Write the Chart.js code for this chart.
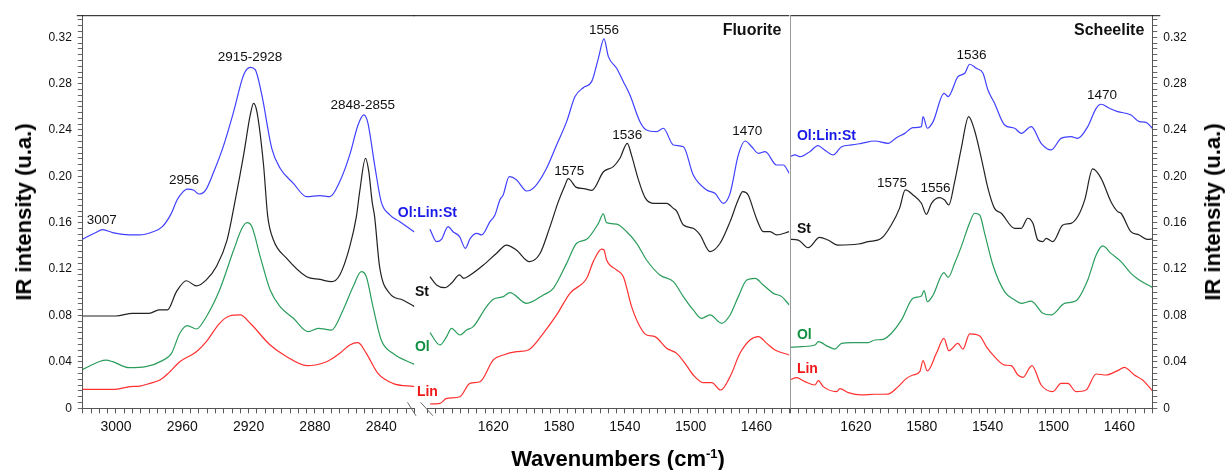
<!DOCTYPE html>
<html>
<head>
<meta charset="utf-8">
<title>IR spectra - fluorite / scheelite</title>
<script src="https://cdn.jsdelivr.net/npm/chart.js@4.4.1/dist/chart.umd.min.js"></script>
<style>
    body { margin: 0; background: #fff; }
    #wrap { position: relative; width: 1225px; height: 470px; font-family: "Liberation Sans", Arial, Helvetica, sans-serif; }
    #wrap canvas { position: absolute; left: 0; top: 0; }
    .axis-title { position: absolute; font-weight: bold; font-size: 22px; color: #000; white-space: nowrap; }
    .axis-title sup { font-size: 13px; }
</style>
</head>
<body>
<div id="wrap">
    <canvas id="chPanel" width="1225" height="470"></canvas>
    <canvas id="flPanel" width="1225" height="470"></canvas>
    <canvas id="scPanel" width="1225" height="470"></canvas>
    <div class="axis-title" style="left:618px; top:459px; transform:translate(-50%,-50%);">Wavenumbers (cm<sup>-1</sup>)</div>
    <div class="axis-title" style="left:24px; top:212px; transform:translate(-50%,-50%) rotate(-90deg);">IR intensity (u.a.)</div>
    <div class="axis-title" style="left:1213px; top:212px; transform:translate(-50%,-50%) rotate(-90deg);">IR intensity (u.a.)</div>
</div>
<script>
// ---- CH stretching region (3020 - 2820 cm-1) ----
const chMixX = [3020, 3013, 3008, 3002, 2996, 2986, 2978, 2972, 2967, 2963, 2960, 2957, 2953, 2950, 2946, 2941, 2935, 2929, 2923, 2919, 2916, 2912, 2906, 2901, 2893, 2885, 2877, 2871, 2865, 2859, 2854, 2850.5, 2848, 2844, 2840, 2835, 2829, 2820];
const chMixY = [0.146, 0.151, 0.154, 0.1515, 0.150, 0.1495, 0.152, 0.1567, 0.167, 0.180, 0.186, 0.189, 0.188, 0.1848, 0.188, 0.204, 0.227, 0.256, 0.2875, 0.294, 0.292, 0.270, 0.224, 0.207, 0.194, 0.1825, 0.1834, 0.1825, 0.1955, 0.2185, 0.2443, 0.253, 0.2458, 0.210, 0.178, 0.167, 0.161, 0.152];

const chStX = [3020, 3000, 2990, 2980, 2974, 2969, 2963.5, 2957.5, 2951.5, 2945.5, 2939.5, 2933, 2928, 2923, 2919, 2917, 2915, 2911, 2908.5, 2905, 2897, 2885, 2877, 2870, 2865, 2859, 2855, 2853, 2849.5, 2847.5, 2845.5, 2844, 2841, 2835, 2827, 2820];
const chStY = [0.0796, 0.0796, 0.0819, 0.0819, 0.0848, 0.0848, 0.1006, 0.110, 0.1055, 0.1107, 0.122, 0.145, 0.180, 0.2185, 0.253, 0.263, 0.2558, 0.210, 0.166, 0.1452, 0.1293, 0.1135, 0.1112, 0.1092, 0.115, 0.1394, 0.1653, 0.1868, 0.2156, 0.2041, 0.1782, 0.1653, 0.1222, 0.0992, 0.0934, 0.0877];

const chOlX = [3020, 3006, 3002, 2992, 2982, 2972, 2966.5, 2961.5, 2957, 2951.5, 2945.5, 2937.5, 2929, 2924, 2921, 2918, 2913, 2907, 2901, 2893, 2884, 2878, 2870, 2863, 2857, 2852, 2849, 2845, 2840, 2833, 2820];
const chOlY = [0.0336, 0.0416, 0.0402, 0.035, 0.0359, 0.0411, 0.0474, 0.0647, 0.0713, 0.0684, 0.079, 0.102, 0.1365, 0.1552, 0.1601, 0.1566, 0.1308, 0.102, 0.0877, 0.0776, 0.0661, 0.069, 0.0675, 0.0848, 0.1048, 0.1178, 0.1135, 0.0877, 0.0589, 0.0474, 0.0379];

const chLinX = [3020, 3000.5, 2991.5, 2985.5, 2979.5, 2973.5, 2968.5, 2961.5, 2951.5, 2945.5, 2937.5, 2931.5, 2925, 2919, 2907, 2897, 2885, 2873, 2865, 2859, 2854, 2849, 2842, 2833, 2820];
const chLinY = [0.0164, 0.0164, 0.0187, 0.0192, 0.0215, 0.0244, 0.0301, 0.0402, 0.0488, 0.0575, 0.0733, 0.0796, 0.0805, 0.0733, 0.0546, 0.0445, 0.0368, 0.0402, 0.0474, 0.0546, 0.0566, 0.0474, 0.0301, 0.0215, 0.0187];

// ---- Fluorite (1660 - 1440 cm-1) ----
const flMixX = [1658.5, 1654.5, 1651.5, 1647.5, 1644.5, 1640.5, 1637, 1634, 1630, 1627, 1622, 1619, 1616, 1614, 1610.3, 1605.8, 1599.7, 1594.7, 1587.6, 1581.5, 1575.4, 1570.3, 1565.3, 1560.2, 1556.1, 1552.7, 1550, 1545, 1540.9, 1536.9, 1530.8, 1526.8, 1520.7, 1516.6, 1510.5, 1504.4, 1498.4, 1490.3, 1485.2, 1480.1, 1476, 1471, 1466.9, 1462.9, 1458.8, 1454.7, 1447.7, 1443.6, 1440];
const flMixY = [0.1544, 0.1437, 0.1457, 0.1567, 0.1523, 0.148, 0.138, 0.1466, 0.1509, 0.1495, 0.161, 0.1667, 0.1797, 0.184, 0.1998, 0.1969, 0.1874, 0.1912, 0.207, 0.2271, 0.2472, 0.2688, 0.2765, 0.2817, 0.3018, 0.3185, 0.3033, 0.2932, 0.2817, 0.2702, 0.2472, 0.240, 0.2386, 0.2415, 0.2271, 0.2256, 0.2012, 0.1883, 0.1854, 0.1768, 0.1854, 0.2185, 0.2305, 0.2256, 0.2199, 0.2213, 0.2098, 0.2098, 0.2026];

const flStX = [1658.5, 1654.5, 1649.5, 1645.5, 1640.5, 1638, 1634, 1626, 1618, 1612, 1606, 1598, 1591.5, 1585.5, 1580.5, 1576.5, 1574.4, 1569.5, 1565, 1560, 1553, 1547, 1543, 1538.5, 1536, 1532, 1527.7, 1522.7, 1514.6, 1510.5, 1508.5, 1504.4, 1498.4, 1494.3, 1488.2, 1482.1, 1476, 1471, 1468.3, 1465, 1462, 1459.8, 1455.8, 1451.7, 1447.7, 1440];
const flStY = [0.1135, 0.1063, 0.104, 0.1078, 0.115, 0.1121, 0.115, 0.1236, 0.1337, 0.1408, 0.1365, 0.1265, 0.1337, 0.1567, 0.178, 0.192, 0.198, 0.1905, 0.1895, 0.188, 0.204, 0.2084, 0.2156, 0.2285, 0.2185, 0.1983, 0.1817, 0.1768, 0.1768, 0.1724, 0.170, 0.1581, 0.1552, 0.1495, 0.1351, 0.1423, 0.161, 0.180, 0.1868, 0.184, 0.172, 0.163, 0.1523, 0.1523, 0.1495, 0.1523];

const flOlX = [1658.5, 1652.4, 1648.4, 1645.4, 1640.3, 1636.2, 1632.2, 1624.1, 1620, 1613.9, 1609.9, 1599.7, 1589.6, 1583.5, 1575.4, 1569.3, 1563.2, 1556.1, 1553.1, 1551.1, 1545, 1538.9, 1532.8, 1526.8, 1518.7, 1510.5, 1504.4, 1498.4, 1493.3, 1488.2, 1481.1, 1476, 1471, 1465.9, 1460.8, 1455.8, 1449.7, 1444.6, 1440];
const flOlY = [0.0652, 0.0546, 0.0618, 0.069, 0.0632, 0.0675, 0.0704, 0.0877, 0.094, 0.0963, 0.0997, 0.0905, 0.0977, 0.1035, 0.125, 0.1423, 0.1457, 0.1595, 0.1676, 0.1601, 0.1589, 0.1523, 0.1423, 0.1279, 0.115, 0.1092, 0.0963, 0.0848, 0.0776, 0.0805, 0.0733, 0.0805, 0.0963, 0.1107, 0.1121, 0.1063, 0.0991, 0.0963, 0.0891];

const flLinX = [1658.5, 1652.4, 1648.4, 1640.3, 1634.2, 1628.1, 1620, 1613.9, 1605.8, 1598.7, 1589.6, 1581.5, 1573.4, 1563.2, 1559.2, 1554.1, 1552.7, 1551.1, 1545, 1540.9, 1535.9, 1530.8, 1526.7, 1521.7, 1514.6, 1508.5, 1503.4, 1498.4, 1492.3, 1487.2, 1481.7, 1476, 1470, 1463.9, 1458.8, 1453.7, 1448.7, 1440];
const flLinY = [0.0037, 0.0043, 0.0086, 0.010, 0.0215, 0.0229, 0.0417, 0.046, 0.0488, 0.0503, 0.0647, 0.0805, 0.0992, 0.1121, 0.1265, 0.1372, 0.1365, 0.1279, 0.1193, 0.1135, 0.0877, 0.0704, 0.0632, 0.0618, 0.0517, 0.0474, 0.0388, 0.0287, 0.0221, 0.0221, 0.0158, 0.0273, 0.0474, 0.0589, 0.0618, 0.056, 0.0503, 0.046];

// ---- Scheelite (1660 - 1440 cm-1) ----
const scMixX = [1660, 1657, 1654, 1648, 1643, 1639, 1633.7, 1628.7, 1622.6, 1616.6, 1608.5, 1600.4, 1595.4, 1590.3, 1585.3, 1580.2, 1579.2, 1576.6, 1573.1, 1566.5, 1564, 1558, 1553.9, 1550.9, 1546.9, 1542.8, 1539.8, 1535.8, 1529.7, 1523.6, 1519.6, 1513.5, 1507.5, 1501.4, 1495.4, 1489.3, 1485.3, 1479.2, 1474.1, 1471.1, 1466.1, 1461, 1452.9, 1447.9, 1443.8, 1440];
const scMixY = [0.217, 0.2185, 0.217, 0.2213, 0.2265, 0.2228, 0.2185, 0.2256, 0.2271, 0.2285, 0.2305, 0.2285, 0.2334, 0.2371, 0.242, 0.2429, 0.2515, 0.2415, 0.2472, 0.2716, 0.2688, 0.286, 0.2889, 0.2967, 0.2932, 0.2889, 0.2745, 0.263, 0.2443, 0.2415, 0.2371, 0.2429, 0.2285, 0.2228, 0.2328, 0.2343, 0.2328, 0.2429, 0.2587, 0.2622, 0.2587, 0.2558, 0.253, 0.2472, 0.2466, 0.2415];

const scStX = [1660, 1655, 1649, 1642, 1637, 1631, 1618.5, 1612.5, 1604.5, 1598.5, 1593.5, 1590, 1585.3, 1580.2, 1577.2, 1574.1, 1569.1, 1566.1, 1563.6, 1560, 1556, 1551.5, 1548, 1543.8, 1539.8, 1535.8, 1531.7, 1523.6, 1519.6, 1515.6, 1512.5, 1509.5, 1506.5, 1504.4, 1500.4, 1494.3, 1489.3, 1485, 1481, 1476.2, 1471.1, 1465.1, 1461, 1459, 1453, 1448, 1442.8, 1440];
const scStY = [0.1457, 0.1451, 0.1385, 0.1474, 0.1451, 0.1408, 0.1417, 0.1437, 0.1466, 0.1581, 0.1724, 0.1883, 0.184, 0.1768, 0.1673, 0.1768, 0.1817, 0.1796, 0.1753, 0.1955, 0.2242, 0.2515, 0.240, 0.2156, 0.1897, 0.1724, 0.1682, 0.1552, 0.1552, 0.1639, 0.1595, 0.1451, 0.1437, 0.1466, 0.1437, 0.1581, 0.1595, 0.166, 0.180, 0.2064, 0.1983, 0.1782, 0.1696, 0.1682, 0.1523, 0.1495, 0.1457, 0.146];

const scOlX = [1660, 1652.9, 1644.8, 1642.8, 1636.8, 1632.7, 1628.7, 1622.6, 1612.5, 1608.5, 1603.4, 1598.4, 1592.3, 1585.3, 1580.2, 1578.6, 1576.6, 1573.1, 1566.5, 1564, 1560, 1556, 1550.9, 1547.9, 1544.8, 1541.8, 1536.8, 1529.7, 1523.6, 1519.6, 1513.5, 1506.5, 1501.4, 1493.3, 1486.3, 1479.2, 1474.1, 1470.1, 1465.1, 1459, 1453, 1447.9, 1440];
const scOlY = [0.0526, 0.0532, 0.0546, 0.0575, 0.0532, 0.0511, 0.056, 0.0566, 0.0566, 0.0589, 0.0595, 0.0647, 0.0762, 0.0949, 0.0969, 0.1015, 0.092, 0.0977, 0.117, 0.1129, 0.125, 0.1394, 0.1601, 0.1682, 0.1667, 0.1509, 0.1236, 0.1006, 0.0934, 0.0905, 0.0925, 0.0819, 0.0805, 0.0905, 0.0928, 0.1107, 0.1322, 0.140, 0.1336, 0.1265, 0.1164, 0.1107, 0.1043];

const scLinX = [1660, 1656, 1650.9, 1644.8, 1642.8, 1639.8, 1631.7, 1629.7, 1624.6, 1616.6, 1608.5, 1600.4, 1594.3, 1589.3, 1585.3, 1581.2, 1579.2, 1576.6, 1571.1, 1566.5, 1563.6, 1558, 1555, 1550.9, 1544.8, 1540.8, 1535.8, 1529.7, 1525.7, 1521.6, 1518.6, 1513.1, 1507.5, 1500.4, 1495.4, 1491.3, 1486.3, 1480.2, 1474.1, 1468.1, 1461, 1457, 1450.9, 1445.9, 1440];
const scLinY = [0.0244, 0.0264, 0.023, 0.0201, 0.0238, 0.0187, 0.0144, 0.0169, 0.0135, 0.0115, 0.0121, 0.0123, 0.0187, 0.0258, 0.0287, 0.0316, 0.0411, 0.0322, 0.0474, 0.0603, 0.0497, 0.056, 0.0511, 0.0641, 0.0624, 0.0532, 0.0445, 0.0373, 0.0368, 0.0287, 0.0267, 0.0368, 0.0201, 0.0144, 0.0215, 0.0215, 0.0144, 0.0158, 0.0296, 0.0287, 0.0325, 0.0353, 0.0287, 0.0244, 0.0152];

// band labels, placed at (wavenumber, intensity)
const chPeakNotes = [
    { text: '3007', x: 3008.6, y: 0.162 },
    { text: '2956', x: 2959, y: 0.1963 },
    { text: '2915-2928', x: 2919.2, y: 0.3027 },
    { text: '2848-2855', x: 2851.2, y: 0.261 }
];
const flPeakNotes = [
    { text: '1556', x: 1552.7, y: 0.3263 },
    { text: '1536', x: 1538.5, y: 0.2351 },
    { text: '1575', x: 1573.8, y: 0.2041 },
    { text: '1470', x: 1465.5, y: 0.2392 }
];
const scPeakNotes = [
    { text: '1536', x: 1549.8, y: 0.3047 },
    { text: '1470', x: 1470.5, y: 0.2702 },
    { text: '1575', x: 1598, y: 0.1941 },
    { text: '1556', x: 1571.6, y: 0.1897 }
];
// series names (left aligned)
const chSeriesNotes = [
    { text: 'Ol:Lin:St', x: 2830, y: 0.1687, color: '#1a1ae8' },
    { text: 'St', x: 2819.7, y: 0.1006, color: '#111' },
    { text: 'Ol', x: 2819.7, y: 0.0529, color: '#0e9040' },
    { text: 'Lin', x: 2818.5, y: 0.0143, color: '#f01818' }
];
const scSeriesNotes = [
    { text: 'Ol:Lin:St', x: 1655.8, y: 0.2351, color: '#1a1ae8' },
    { text: 'St', x: 1655.8, y: 0.1546, color: '#111' },
    { text: 'Ol', x: 1655.8, y: 0.0632, color: '#0e9040' },
    { text: 'Lin', x: 1655.8, y: 0.0339, color: '#f01818' }
];

const FONT = '"Liberation Sans", Arial, Helvetica, sans-serif';
const Y_MAX = 0.339;
const COLORS = { mix: '#4040ff', st: '#222222', ol: '#2a9d5c', lin: '#ff3030' };

function lineSet(label, xs, ys, color) {
    return {
        label,
        data: xs.map((x, i) => ({ x, y: ys[i] })),
        borderColor: color,
        borderWidth: 1.2,
        pointRadius: 0,
        cubicInterpolationMode: 'monotone',
        fill: false
    };
}

// text drawn in data coordinates
const notesPlugin = {
    id: 'notes',
    afterDatasetsDraw(chart, args, opts) {
        const { ctx, scales } = chart;
        ctx.save();
        ctx.textBaseline = 'middle';
        (opts.peaks || []).forEach(n => {
            ctx.font = '13.5px ' + FONT;
            ctx.fillStyle = '#111';
            ctx.textAlign = 'center';
            ctx.fillText(n.text, scales.x.getPixelForValue(n.x), scales.y.getPixelForValue(n.y));
        });
        (opts.series || []).forEach(n => {
            ctx.font = 'bold 14px ' + FONT;
            ctx.fillStyle = n.color;
            ctx.textAlign = 'left';
            ctx.fillText(n.text, scales.x.getPixelForValue(n.x), scales.y.getPixelForValue(n.y));
        });
        if (opts.panel) {
            ctx.font = 'bold 16px ' + FONT;
            ctx.fillStyle = '#111';
            ctx.textAlign = 'right';
            ctx.fillText(opts.panel, chart.chartArea.right - 8, chart.chartArea.top + 15);
        }
        ctx.restore();
    }
};

// top frame line, panel separator and the axis break marks
const framePlugin = {
    id: 'frame',
    afterDraw(chart, args, o) {
        const { ctx, chartArea: a } = chart;
        ctx.save();
        ctx.lineWidth = 1;
        ctx.strokeStyle = '#111';
        ctx.beginPath();
        ctx.moveTo(a.left - (o.extendLeft || 0), a.top + 0.5);
        ctx.lineTo(a.right + (o.extendRight || 0), a.top + 0.5);
        ctx.stroke();
        if (o.separator) {
            ctx.strokeStyle = '#9a9a9a';
            ctx.beginPath();
            ctx.moveTo(a.left + 0.5, a.top);
            ctx.lineTo(a.left + 0.5, a.bottom);
            ctx.stroke();
        }
        if (o.breakMarks) {
            ctx.strokeStyle = '#666';
            ctx.beginPath();
            ctx.moveTo(a.left - 20, a.bottom - 6);
            ctx.lineTo(a.left - 11.5, a.bottom + 7.5);
            ctx.moveTo(a.left - 7, a.bottom - 6);
            ctx.lineTo(a.left + 5.5, a.bottom + 7.5);
            ctx.stroke();
        }
        ctx.restore();
    }
};

function xAxis(min, max, anchor) {
    return {
        type: 'linear',
        reverse: true,
        min: min,
        max: max,
        afterFit: s => { s.height = 470 - 408.3; },
        border: { display: true, color: '#555', width: 1 },
        grid: { drawOnChartArea: false, drawTicks: true, tickLength: 5, tickColor: '#555' },
        ticks: {
            stepSize: 5,
            autoSkip: false,
            maxRotation: 0,
            maxTicksLimit: 200,
            padding: 5,
            color: '#111',
            font: { family: FONT, size: 14 },
            callback: v => {
                const w = Math.round(v);
                // no labels on the panel edges
                if (w <= min || w >= max) return '';
                return (w - anchor) % 40 === 0 ? String(w) : '';
            }
        }
    };
}

function yAxis(position, width, show) {
    return {
        display: show,
        position: position,
        min: 0,
        max: Y_MAX,
        afterFit: s => { s.width = width; },
        border: { display: true, color: '#555', width: 1 },
        grid: { drawOnChartArea: false, drawTicks: true, tickLength: 5, tickColor: '#666' },
        ticks: {
            stepSize: 0.005,
            includeBounds: false,
            autoSkip: false,
            maxTicksLimit: 200,
            padding: 6,
            color: '#111',
            font: { family: FONT, size: 12 },
            callback: v => {
                const k = Math.round(v * 1000);
                if (k % 40 !== 0) return '';
                return k === 0 ? '0' : (k / 1000).toFixed(2);
            }
        }
    };
}

function makePanel(id, datasets, xScale, yScale, padding, notes, frame) {
    return new Chart(document.getElementById(id).getContext('2d'), {
        type: 'line',
        data: { datasets: datasets },
        options: {
            responsive: false,
            animation: false,
            devicePixelRatio: 1,
            layout: { padding: padding },
            scales: { x: xScale, y: yScale },
            plugins: {
                legend: { display: false },
                tooltip: { enabled: false },
                notes: notes,
                frame: frame
            }
        },
        plugins: [notesPlugin, framePlugin]
    });
}

makePanel('chPanel',
    [
        lineSet('Ol:Lin:St', chMixX, chMixY, COLORS.mix),
        lineSet('St', chStX, chStY, COLORS.st),
        lineSet('Ol', chOlX, chOlY, COLORS.ol),
        lineSet('Lin', chLinX, chLinY, COLORS.lin)
    ],
    xAxis(2820, 3020, 3000),
    yAxis('left', 82.8, true),
    { left: 0, top: 15.2, right: 810.6, bottom: 0 },
    { peaks: chPeakNotes, series: chSeriesNotes },
    { extendLeft: 6 }
);

makePanel('flPanel',
    [
        lineSet('Ol:Lin:St', flMixX, flMixY, COLORS.mix),
        lineSet('St', flStX, flStY, COLORS.st),
        lineSet('Ol', flOlX, flOlY, COLORS.ol),
        lineSet('Lin', flLinX, flLinY, COLORS.lin)
    ],
    xAxis(1440, 1660, 1620),
    yAxis('left', 0, false),
    { left: 427.5, top: 15.2, right: 435.7, bottom: 0 },
    { peaks: flPeakNotes, panel: 'Fluorite' },
    { extendLeft: 14, breakMarks: true }
);

makePanel('scPanel',
    [
        lineSet('Ol:Lin:St', scMixX, scMixY, COLORS.mix),
        lineSet('St', scStX, scStY, COLORS.st),
        lineSet('Ol', scOlX, scOlY, COLORS.ol),
        lineSet('Lin', scLinX, scLinY, COLORS.lin)
    ],
    xAxis(1440, 1660, 1620),
    yAxis('right', 72.7, true),
    { left: 790, top: 15.2, right: 0, bottom: 0 },
    { peaks: scPeakNotes, series: scSeriesNotes, panel: 'Scheelite' },
    { extendRight: 8, separator: true }
);
</script>
</body>
</html>
